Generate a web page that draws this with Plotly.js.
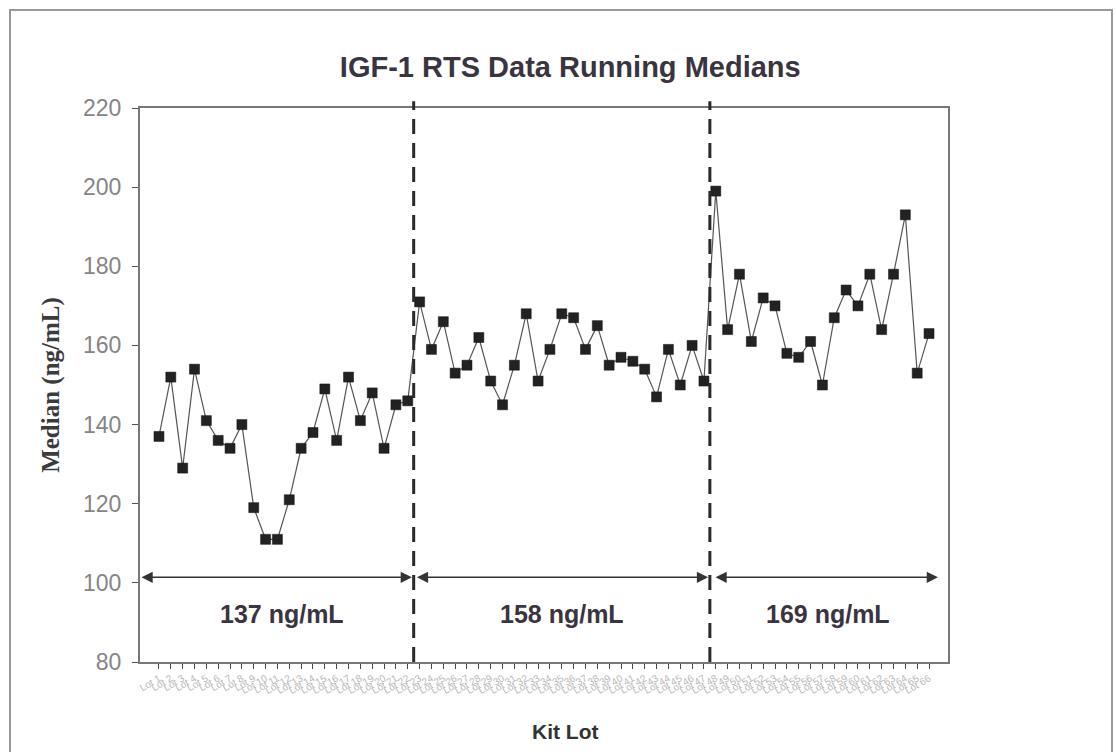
<!DOCTYPE html>
<html>
<head>
<meta charset="utf-8">
<script src="https://cdn.plot.ly/plotly-3.0.1.min.js"></script>
<style>
  html, body { margin: 0; padding: 0; background: #fff; overflow: hidden; }
  #frame { position: absolute; left: 9px; top: 9px; width: 1104px; height: 780px; border: 2px solid #9a9a9a; box-sizing: border-box; }
  #chart { position: absolute; left: 0; top: 0; width: 1116px; height: 752px; }
</style>
</head>
<body>
<div id="frame"></div>
<div id="chart"></div>
<script>
// ---- data ----
const lotLabels = [
  "Lot 1","Lot 2","Lot 3","Lot 4","Lot 5","Lot 6","Lot 7","Lot 8","Lot 9","Lot 10",
  "Lot 11","Lot 12","Lot 13","Lot 14","Lot 15","Lot 16","Lot 17","Lot 18","Lot 19","Lot 20",
  "Lot 21","Lot 22","Lot 23","Lot 24","Lot 25","Lot 26","Lot 27","Lot 28","Lot 29","Lot 30",
  "Lot 31","Lot 32","Lot 33","Lot 34","Lot 35","Lot 36","Lot 37","Lot 38","Lot 39","Lot 40",
  "Lot 41","Lot 42","Lot 43","Lot 44","Lot 45","Lot 46","Lot 47","Lot 48","Lot 49","Lot 50",
  "Lot 51","Lot 52","Lot 53","Lot 54","Lot 55","Lot 56","Lot 57","Lot 58","Lot 59","Lot 60",
  "Lot 61","Lot 62","Lot 63","Lot 64","Lot 65","Lot 66"
];
const medians1 = [137, 152, 129, 154, 141, 136, 134, 140, 119, 111, 111, 121, 134, 138, 149, 136, 152, 141, 148, 134, 145, 146];
const medians2 = [171, 159, 166, 153, 155, 162, 151, 145, 155, 168, 151, 159, 168, 167, 159, 165, 155, 157, 156, 154, 147, 159, 150, 160, 151];
const medians3 = [199, 164, 178, 161, 172, 170, 158, 157, 161, 150, 167, 174, 170, 178, 164, 178, 193, 153, 163];
const periodLabels = ["137 ng/mL", "158 ng/mL", "169 ng/mL"];
const yTicks = [80, 100, 120, 140, 160, 180, 200, 220];

// ---- build ----
const medians = medians1.concat(medians2, medians3);
const xIdx = medians.map((_, i) => i);
const b1 = medians1.length - 0.5;                    // boundary between lot periods
const b2 = medians1.length + medians2.length - 0.5;
const xMin = -1.6, xMax = medians.length + 0.6;

const trace = {
  x: xIdx, y: medians, type: 'scatter', mode: 'lines+markers',
  line: { color: '#555', width: 1.2 },
  marker: { symbol: 'square', size: 10, color: '#222', line: { color: '#111', width: 0.5 } },
  hoverinfo: 'x+y', showlegend: false
};

const dashLine = (xv) => ({
  type: 'line', xref: 'x', yref: 'paper', x0: xv, x1: xv, y0: 0, y1: 1.012,
  line: { color: '#2a2a2a', width: 3, dash: '15px,9px' }
});

const arrowY = 101.4;
const segs = [[xMin, b1 - 0.15], [b1 + 0.15, b2 - 0.15], [b2 + 0.35, medians.length - 0.25]];
const arrows = segs.map(s => ({
  x: s[1], y: arrowY, ax: s[0], ay: arrowY, axref: 'x', ayref: 'y', xref: 'x', yref: 'y',
  text: '', showarrow: true, arrowside: 'end+start', arrowhead: 2, arrowsize: 1.6,
  arrowwidth: 1.4, arrowcolor: '#333'
}));
const labelX = [(xMin + b1) / 2 + 0.4, (b1 + b2) / 2, (b2 + medians.length) / 2 + 0.2];
const periodAnn = periodLabels.map((t, k) => ({
  x: labelX[k], y: 92.2, xref: 'x', yref: 'y', text: t, showarrow: false,
  font: { family: 'Liberation Sans, Arial, sans-serif', size: 25, color: '#3a3440', weight: 'bold' },
  xanchor: 'center', yanchor: 'middle'
}));

const layout = {
  width: 1116, height: 752,
  margin: { l: 140, r: 168, t: 108, b: 90, autoexpand: false },
  paper_bgcolor: 'rgba(0,0,0,0)', plot_bgcolor: '#fff',
  title: {
    text: 'IGF-1 RTS Data Running Medians',
    x: 0.511, xref: 'container', xanchor: 'center',
    y: 0.911, yref: 'container', yanchor: 'middle',
    font: { family: 'Liberation Sans, Arial, sans-serif', size: 29, color: '#3a3440', weight: 'bold' }
  },
  xaxis: {
    range: [xMin, xMax], showgrid: false, zeroline: false,
    tickmode: 'array', tickvals: xIdx, ticktext: lotLabels, tickangle: -30,
    tickfont: { family: 'Liberation Sans, Arial, sans-serif', size: 10, color: '#b8b8b8' },
    ticks: 'outside', ticklen: 5, tickcolor: '#444', tickwidth: 1,
    showline: true, linecolor: '#777', linewidth: 2, mirror: true,
    automargin: false
  },
  yaxis: {
    range: [80, 220], showgrid: false, zeroline: false,
    tickmode: 'array', tickvals: yTicks,
    tickfont: { family: 'Liberation Sans, Arial, sans-serif', size: 23, color: '#858585' },
    ticks: 'outside', ticklen: 6, tickcolor: '#555', tickwidth: 1,
    ticklabelstandoff: 6,
    showline: true, linecolor: '#777', linewidth: 2, mirror: true,
    automargin: false,
    title: { text: 'Median (ng/mL)', standoff: 16,
      font: { family: 'Liberation Serif, Times New Roman, serif', size: 25, color: '#3b3b3b', weight: 'bold' } }
  },
  shapes: [dashLine(b1), dashLine(b2)],
  annotations: arrows.concat(periodAnn, [{
    x: 0.526, y: -0.126, xref: 'paper', yref: 'paper', text: 'Kit Lot', showarrow: false,
    font: { family: 'Liberation Sans, Arial, sans-serif', size: 21, color: '#333', weight: 'bold' },
    xanchor: 'center', yanchor: 'middle'
  }])
};

Plotly.newPlot('chart', [trace], layout, { displayModeBar: false, staticPlot: true });
</script>
</body>
</html>
